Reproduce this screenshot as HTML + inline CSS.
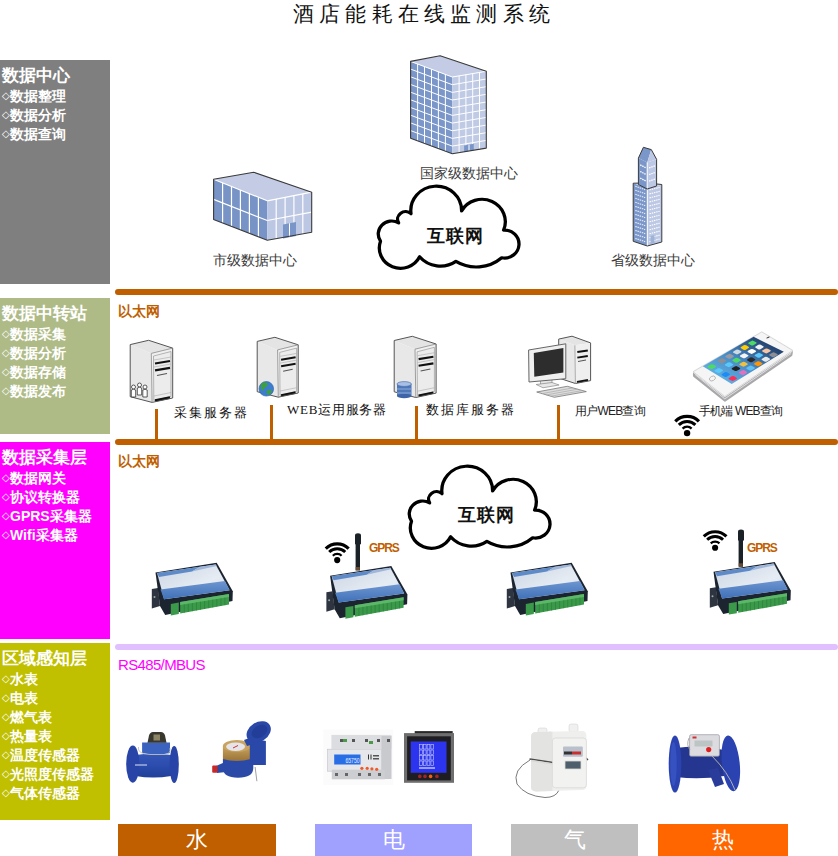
<!DOCTYPE html>
<html><head><meta charset="utf-8">
<style>
*{margin:0;padding:0;box-sizing:border-box}
html,body{width:838px;height:856px;overflow:hidden;background:#fff}
body{position:relative;font-family:"Liberation Sans",sans-serif}
.a{position:absolute;white-space:nowrap}
.side{position:absolute;left:0;width:110px;color:#fff;font-weight:bold}
.side .h{position:absolute;left:2px;top:2px;font-size:17px;line-height:20px}
.side .it{position:absolute;left:2px;font-size:14px;line-height:19px}
.side .it i{font-style:normal;font-weight:normal;font-size:10px;display:inline-block;width:8px;vertical-align:2px}
.hl{position:absolute;left:115px;width:723px;height:6px;border-radius:3px}
.vc{position:absolute;width:3px;background:#c05f00}
.btn{position:absolute;top:824px;height:32px;color:#fff;font-size:22px;line-height:32px;text-align:center}
.lbl{font-size:14px;color:#3a3a3a}
.g{position:absolute;left:0;top:0}
.srv{font-family:"Liberation Serif",serif;font-size:13px;color:#111;letter-spacing:2px}
</style></head><body>
<!-- title -->
<div class="a" style="left:293px;top:0px;font-family:'Liberation Serif',serif;font-size:21px;line-height:28px;letter-spacing:5.2px;color:#111">酒店能耗在线监测系统</div>

<!-- sidebar blocks -->
<div class="side" style="top:60px;height:224px;background:#7f7f7f">
  <div class="h" style="top:6px">数据中心</div>
  <div class="it" style="top:26px"><i>◇</i>数据整理</div>
  <div class="it" style="top:45px"><i>◇</i>数据分析</div>
  <div class="it" style="top:64px"><i>◇</i>数据查询</div>
</div>
<div class="side" style="top:298px;height:136px;background:#afbb87">
  <div class="h" style="top:6px">数据中转站</div>
  <div class="it" style="top:26px"><i>◇</i>数据采集</div>
  <div class="it" style="top:45px"><i>◇</i>数据分析</div>
  <div class="it" style="top:64px"><i>◇</i>数据存储</div>
  <div class="it" style="top:83px"><i>◇</i>数据发布</div>
</div>
<div class="side" style="top:442px;height:197px;background:#ff00ff">
  <div class="h" style="top:6px">数据采集层</div>
  <div class="it" style="top:26px"><i>◇</i>数据网关</div>
  <div class="it" style="top:45px"><i>◇</i>协议转换器</div>
  <div class="it" style="top:64px"><i>◇</i>GPRS采集器</div>
  <div class="it" style="top:83px"><i>◇</i>Wifi采集器</div>
</div>
<div class="side" style="top:643px;height:177px;background:#c0c000">
  <div class="h" style="top:6px">区域感知层</div>
  <div class="it" style="top:26px"><i>◇</i>水表</div>
  <div class="it" style="top:45px"><i>◇</i>电表</div>
  <div class="it" style="top:64px"><i>◇</i>燃气表</div>
  <div class="it" style="top:83px"><i>◇</i>热量表</div>
  <div class="it" style="top:102px"><i>◇</i>温度传感器</div>
  <div class="it" style="top:121px"><i>◇</i>光照度传感器</div>
  <div class="it" style="top:140px"><i>◇</i>气体传感器</div>
</div>

<!-- horizontal lines -->
<div class="hl" style="top:289px;background:#c05f00"></div>
<div class="hl" style="top:439px;background:#c05f00"></div>
<div class="hl" style="top:644px;background:#e0c0ff"></div>

<!-- vertical connectors -->
<div class="vc" style="left:155px;top:409px;height:32px"></div>
<div class="vc" style="left:270px;top:405px;height:36px"></div>
<div class="vc" style="left:415px;top:406px;height:35px"></div>
<div class="vc" style="left:557px;top:405px;height:36px"></div>

<!-- section labels -->
<div class="a" style="left:118px;top:301px;font-size:14px;line-height:20px;font-weight:bold;color:#c05f00">以太网</div>
<div class="a" style="left:118px;top:451px;font-size:14px;line-height:20px;font-weight:bold;color:#c05f00">以太网</div>
<div class="a" style="left:118px;top:655px;font-size:15px;line-height:20px;letter-spacing:-0.65px;color:#ff00ff">RS485/MBUS</div>

<svg class="g" width="838" height="856" viewBox="0 0 838 856"><polygon points="213.6,179.3 253.7,172.2 311.7,192.2 267.3,200.8" fill="#c3cce4" stroke="none" stroke-width="1" stroke-linejoin="round" />
<polygon points="213.6,179.3 267.3,200.8 267.3,240.2 213.6,219.4" fill="#7893c6" stroke="none" stroke-width="1" stroke-linejoin="round" />
<polygon points="267.3,200.8 311.7,192.2 311.7,232.3 267.3,240.2" fill="#bcc7e3" stroke="none" stroke-width="1" stroke-linejoin="round" />
<line x1="222.6" y1="182.9" x2="222.6" y2="222.9" stroke="#fff" stroke-width="1.2" />
<line x1="231.5" y1="186.5" x2="231.5" y2="226.3" stroke="#fff" stroke-width="1.2" />
<line x1="240.4" y1="190.1" x2="240.4" y2="229.8" stroke="#fff" stroke-width="1.2" />
<line x1="249.4" y1="193.6" x2="249.4" y2="233.3" stroke="#fff" stroke-width="1.2" />
<line x1="258.4" y1="197.2" x2="258.4" y2="236.7" stroke="#fff" stroke-width="1.2" />
<line x1="213.6" y1="199.4" x2="267.3" y2="220.5" stroke="#fff" stroke-width="1.2" />
<line x1="276.2" y1="199.1" x2="276.2" y2="238.6" stroke="#fff" stroke-width="1.2" />
<line x1="285.1" y1="197.4" x2="285.1" y2="237.0" stroke="#fff" stroke-width="1.2" />
<line x1="293.9" y1="195.6" x2="293.9" y2="235.5" stroke="#fff" stroke-width="1.2" />
<line x1="302.8" y1="193.9" x2="302.8" y2="233.9" stroke="#fff" stroke-width="1.2" />
<line x1="267.3" y1="220.5" x2="311.7" y2="212.2" stroke="#fff" stroke-width="1.2" />
<line x1="213.6" y1="179.3" x2="267.3" y2="200.8" stroke="#fff" stroke-width="1.2" />
<line x1="267.3" y1="200.8" x2="311.7" y2="192.2" stroke="#fff" stroke-width="1.2" />
<polygon points="283.0,224.5 296.0,222.0 296.0,236.0 283.0,238.5" fill="#7a96c9" stroke="none" stroke-width="1" stroke-linejoin="round" />
<line x1="289.5" y1="223.3" x2="289.5" y2="237.3" stroke="#fff" stroke-width="1" />
<polygon points="213.6,179.3 253.7,172.2 311.7,192.2 311.7,232.3 267.3,240.2 213.6,219.4" fill="none" stroke="#3a3a3a" stroke-width="1.1" stroke-linejoin="round" />
<polygon points="410.6,61.4 440.1,55.7 486.3,71.3 452.3,77.0" fill="#c3cce4" stroke="none" stroke-width="1" stroke-linejoin="round" />
<polygon points="410.6,61.4 452.3,77.0 452.3,153.8 410.6,138.3" fill="#7b97c9" stroke="none" stroke-width="1" stroke-linejoin="round" />
<polygon points="452.3,77.0 486.3,71.3 486.3,148.1 452.3,153.8" fill="#bfcae5" stroke="none" stroke-width="1" stroke-linejoin="round" />
<line x1="417.6" y1="64.0" x2="417.6" y2="140.9" stroke="#fff" stroke-width="1.0" />
<line x1="424.5" y1="66.6" x2="424.5" y2="143.5" stroke="#fff" stroke-width="1.0" />
<line x1="431.5" y1="69.2" x2="431.5" y2="146.1" stroke="#fff" stroke-width="1.0" />
<line x1="438.4" y1="71.8" x2="438.4" y2="148.6" stroke="#fff" stroke-width="1.0" />
<line x1="445.4" y1="74.4" x2="445.4" y2="151.2" stroke="#fff" stroke-width="1.0" />
<line x1="410.6" y1="69.1" x2="452.3" y2="84.7" stroke="#fff" stroke-width="1.0" />
<line x1="410.6" y1="76.8" x2="452.3" y2="92.4" stroke="#fff" stroke-width="1.0" />
<line x1="410.6" y1="84.5" x2="452.3" y2="100.0" stroke="#fff" stroke-width="1.0" />
<line x1="410.6" y1="92.2" x2="452.3" y2="107.7" stroke="#fff" stroke-width="1.0" />
<line x1="410.6" y1="99.8" x2="452.3" y2="115.4" stroke="#fff" stroke-width="1.0" />
<line x1="410.6" y1="107.5" x2="452.3" y2="123.1" stroke="#fff" stroke-width="1.0" />
<line x1="410.6" y1="115.2" x2="452.3" y2="130.8" stroke="#fff" stroke-width="1.0" />
<line x1="410.6" y1="122.9" x2="452.3" y2="138.4" stroke="#fff" stroke-width="1.0" />
<line x1="410.6" y1="130.6" x2="452.3" y2="146.1" stroke="#fff" stroke-width="1.0" />
<line x1="459.1" y1="75.9" x2="459.1" y2="152.7" stroke="#fff" stroke-width="1.0" />
<line x1="465.9" y1="74.7" x2="465.9" y2="151.5" stroke="#fff" stroke-width="1.0" />
<line x1="472.7" y1="73.6" x2="472.7" y2="150.4" stroke="#fff" stroke-width="1.0" />
<line x1="479.5" y1="72.4" x2="479.5" y2="149.2" stroke="#fff" stroke-width="1.0" />
<line x1="452.3" y1="84.7" x2="486.3" y2="79.0" stroke="#fff" stroke-width="1.0" />
<line x1="452.3" y1="92.4" x2="486.3" y2="86.7" stroke="#fff" stroke-width="1.0" />
<line x1="452.3" y1="100.0" x2="486.3" y2="94.3" stroke="#fff" stroke-width="1.0" />
<line x1="452.3" y1="107.7" x2="486.3" y2="102.0" stroke="#fff" stroke-width="1.0" />
<line x1="452.3" y1="115.4" x2="486.3" y2="109.7" stroke="#fff" stroke-width="1.0" />
<line x1="452.3" y1="123.1" x2="486.3" y2="117.4" stroke="#fff" stroke-width="1.0" />
<line x1="452.3" y1="130.8" x2="486.3" y2="125.1" stroke="#fff" stroke-width="1.0" />
<line x1="452.3" y1="138.4" x2="486.3" y2="132.7" stroke="#fff" stroke-width="1.0" />
<line x1="452.3" y1="146.1" x2="486.3" y2="140.4" stroke="#fff" stroke-width="1.0" />
<line x1="410.6" y1="61.4" x2="452.3" y2="77.0" stroke="#fff" stroke-width="1.0" />
<line x1="452.3" y1="77.0" x2="486.3" y2="71.3" stroke="#fff" stroke-width="1.0" />
<polygon points="464.1,145.5 473.8,143.8 473.8,150.2 464.1,151.9" fill="#7a96c9" stroke="none" stroke-width="1" stroke-linejoin="round" />
<line x1="469.0" y1="144.6" x2="469.0" y2="151.0" stroke="#fff" stroke-width="1" />
<polygon points="410.6,61.4 440.1,55.7 486.3,71.3 486.3,148.1 452.3,153.8 410.6,138.3" fill="none" stroke="#3a3a3a" stroke-width="1.1" stroke-linejoin="round" />
<polygon points="633.2,183.2 647.3,188.0 647.3,246.0 633.2,241.3" fill="#7b97c9" stroke="none" stroke-width="1" stroke-linejoin="round" />
<polygon points="647.3,188.0 661.8,184.5 661.8,242.0 647.3,246.0" fill="#bdc8e4" stroke="none" stroke-width="1" stroke-linejoin="round" />
<line x1="635.3" y1="186.3" x2="645.2" y2="189.7" stroke="#e8eef8" stroke-width="1.1" stroke-dasharray="1.5 0.8"/>
<line x1="649.5" y1="189.9" x2="659.6" y2="187.4" stroke="#ffffff" stroke-width="1.1" stroke-dasharray="1.5 0.8"/>
<line x1="635.3" y1="190.3" x2="645.2" y2="193.7" stroke="#e8eef8" stroke-width="1.1" stroke-dasharray="1.5 0.8"/>
<line x1="649.5" y1="193.9" x2="659.6" y2="191.4" stroke="#ffffff" stroke-width="1.1" stroke-dasharray="1.5 0.8"/>
<line x1="635.3" y1="194.3" x2="645.2" y2="197.7" stroke="#e8eef8" stroke-width="1.1" stroke-dasharray="1.5 0.8"/>
<line x1="649.5" y1="197.9" x2="659.6" y2="195.3" stroke="#ffffff" stroke-width="1.1" stroke-dasharray="1.5 0.8"/>
<line x1="635.3" y1="198.3" x2="645.2" y2="201.7" stroke="#e8eef8" stroke-width="1.1" stroke-dasharray="1.5 0.8"/>
<line x1="649.5" y1="201.9" x2="659.6" y2="199.3" stroke="#ffffff" stroke-width="1.1" stroke-dasharray="1.5 0.8"/>
<line x1="635.3" y1="202.3" x2="645.2" y2="205.7" stroke="#e8eef8" stroke-width="1.1" stroke-dasharray="1.5 0.8"/>
<line x1="649.5" y1="205.9" x2="659.6" y2="203.3" stroke="#ffffff" stroke-width="1.1" stroke-dasharray="1.5 0.8"/>
<line x1="635.3" y1="206.4" x2="645.2" y2="209.7" stroke="#e8eef8" stroke-width="1.1" stroke-dasharray="1.5 0.8"/>
<line x1="649.5" y1="209.8" x2="659.6" y2="207.3" stroke="#ffffff" stroke-width="1.1" stroke-dasharray="1.5 0.8"/>
<line x1="635.3" y1="210.4" x2="645.2" y2="213.7" stroke="#e8eef8" stroke-width="1.1" stroke-dasharray="1.5 0.8"/>
<line x1="649.5" y1="213.8" x2="659.6" y2="211.2" stroke="#ffffff" stroke-width="1.1" stroke-dasharray="1.5 0.8"/>
<line x1="635.3" y1="214.4" x2="645.2" y2="217.7" stroke="#e8eef8" stroke-width="1.1" stroke-dasharray="1.5 0.8"/>
<line x1="649.5" y1="217.8" x2="659.6" y2="215.2" stroke="#ffffff" stroke-width="1.1" stroke-dasharray="1.5 0.8"/>
<line x1="635.3" y1="218.4" x2="645.2" y2="221.7" stroke="#e8eef8" stroke-width="1.1" stroke-dasharray="1.5 0.8"/>
<line x1="649.5" y1="221.8" x2="659.6" y2="219.2" stroke="#ffffff" stroke-width="1.1" stroke-dasharray="1.5 0.8"/>
<line x1="635.3" y1="222.4" x2="645.2" y2="225.7" stroke="#e8eef8" stroke-width="1.1" stroke-dasharray="1.5 0.8"/>
<line x1="649.5" y1="225.8" x2="659.6" y2="223.1" stroke="#ffffff" stroke-width="1.1" stroke-dasharray="1.5 0.8"/>
<line x1="635.3" y1="226.4" x2="645.2" y2="229.7" stroke="#e8eef8" stroke-width="1.1" stroke-dasharray="1.5 0.8"/>
<line x1="649.5" y1="229.8" x2="659.6" y2="227.1" stroke="#ffffff" stroke-width="1.1" stroke-dasharray="1.5 0.8"/>
<line x1="635.3" y1="230.4" x2="645.2" y2="233.7" stroke="#e8eef8" stroke-width="1.1" stroke-dasharray="1.5 0.8"/>
<line x1="649.5" y1="233.8" x2="659.6" y2="231.1" stroke="#ffffff" stroke-width="1.1" stroke-dasharray="1.5 0.8"/>
<line x1="635.3" y1="234.4" x2="645.2" y2="237.7" stroke="#e8eef8" stroke-width="1.1" stroke-dasharray="1.5 0.8"/>
<line x1="649.5" y1="237.8" x2="659.6" y2="235.1" stroke="#ffffff" stroke-width="1.1" stroke-dasharray="1.5 0.8"/>
<line x1="635.3" y1="238.4" x2="645.2" y2="241.7" stroke="#e8eef8" stroke-width="1.1" stroke-dasharray="1.5 0.8"/>
<line x1="649.5" y1="241.8" x2="659.6" y2="239.0" stroke="#ffffff" stroke-width="1.1" stroke-dasharray="1.5 0.8"/>
<line x1="647.3" y1="188.0" x2="647.3" y2="246.0" stroke="#fff" stroke-width="1" />
<polygon points="633.2,183.2 647.3,183.0 661.8,184.5 647.3,188.0" fill="#c3cce4" stroke="none" stroke-width="1" stroke-linejoin="round" />
<polygon points="633.2,183.2 647.3,183.0 661.8,184.5 661.8,242.0 647.3,246.0 633.2,241.3" fill="none" stroke="#3a3a3a" stroke-width="1" stroke-linejoin="round" />
<polygon points="638.4,158.1 647.2,162.5 647.2,189.0 638.4,184.5" fill="#7b97c9" stroke="none" stroke-width="1" stroke-linejoin="round" />
<polygon points="647.2,162.5 656.6,159.3 656.6,186.0 647.2,189.0" fill="#bdc8e4" stroke="none" stroke-width="1" stroke-linejoin="round" />
<line x1="640.2" y1="164.9" x2="645.9" y2="167.8" stroke="#fff" stroke-width="1.3" stroke-dasharray="1.5 0.8"/>
<line x1="649.1" y1="167.8" x2="655.2" y2="165.8" stroke="#fff" stroke-width="1.3" stroke-dasharray="1.5 0.8"/>
<line x1="640.2" y1="171.5" x2="645.9" y2="174.4" stroke="#fff" stroke-width="1.3" stroke-dasharray="1.5 0.8"/>
<line x1="649.1" y1="174.5" x2="655.2" y2="172.4" stroke="#fff" stroke-width="1.3" stroke-dasharray="1.5 0.8"/>
<line x1="640.2" y1="178.1" x2="645.9" y2="181.0" stroke="#fff" stroke-width="1.3" stroke-dasharray="1.5 0.8"/>
<line x1="649.1" y1="181.1" x2="655.2" y2="179.1" stroke="#fff" stroke-width="1.3" stroke-dasharray="1.5 0.8"/>
<polygon points="643.4,147.3 651.3,149.6 647.2,162.5 638.4,158.1" fill="#7b97c9" stroke="none" stroke-width="1" stroke-linejoin="round" />
<polygon points="651.3,149.6 656.6,159.3 647.2,162.5" fill="#bdc8e4" stroke="none" stroke-width="1" stroke-linejoin="round" />
<line x1="647.2" y1="162.5" x2="647.2" y2="189.0" stroke="#fff" stroke-width="1" />
<polygon points="643.4,147.3 651.3,149.6 656.6,159.3 656.6,186.0 647.2,189.0 638.4,184.5 638.4,158.1" fill="none" stroke="#3a3a3a" stroke-width="1" stroke-linejoin="round" />
<polygon points="650.5,236.0 654.5,235.0 654.5,243.0 650.5,244.0" fill="#9fb3d9" stroke="none" stroke-width="1" stroke-linejoin="round" />
<path transform="translate(370,180.6) scale(1,0.962)" d="M10.5,63.0 A13.5,13.5 0 0 1 28.6,43.9 A7.9,7.9 0 0 1 41.0,34.4 A25.4,25.4 0 1 1 91.6,31.5 A23.3,23.3 0 0 1 133.6,51.5 A14.5,14.5 0 1 1 131.7,80.2 A38.6,38.6 0 0 1 85.9,84.0 A27.1,27.1 0 0 1 49.6,79.2 A21.2,21.2 0 0 1 10.5,63.0Z" fill="#fff" stroke="#000" stroke-width="3.3" stroke-linejoin="round"/>
<path transform="translate(401,460.6) scale(1,0.962)" d="M10.5,63.0 A13.5,13.5 0 0 1 28.6,43.9 A7.9,7.9 0 0 1 41.0,34.4 A25.4,25.4 0 1 1 91.6,31.5 A23.3,23.3 0 0 1 133.6,51.5 A14.5,14.5 0 1 1 131.7,80.2 A38.6,38.6 0 0 1 85.9,84.0 A27.1,27.1 0 0 1 49.6,79.2 A21.2,21.2 0 0 1 10.5,63.0Z" fill="#fff" stroke="#000" stroke-width="3.3" stroke-linejoin="round"/>
<polygon points="130.2,344.6 148.6,340.3 172.7,348.1 151.3,353.4" fill="#e4e4e4" stroke="none" stroke-width="1" stroke-linejoin="round" />
<polygon points="130.2,344.6 151.3,353.4 152.1,402.4 130.2,396.7" fill="#e8e8e8" stroke="none" stroke-width="1" stroke-linejoin="round" />
<polygon points="151.3,353.4 172.7,348.1 172.7,398.0 152.1,402.4" fill="#f0f0f0" stroke="none" stroke-width="1" stroke-linejoin="round" />
<polygon points="153.5,356.0 171.0,351.5 171.0,396.5 153.8,400.5" fill="#ececec" stroke="#9a9a9a" stroke-width="0.7" stroke-linejoin="round" />
<line x1="155.0" y1="363.5" x2="170.0" y2="361.0" stroke="#111" stroke-width="2.2" />
<line x1="155.0" y1="370.3" x2="170.0" y2="367.8" stroke="#111" stroke-width="2.2" />
<line x1="157.0" y1="375.5" x2="167.0" y2="373.5" stroke="#555" stroke-width="1.2" />
<line x1="154.0" y1="360.0" x2="171.0" y2="357.0" stroke="#aaa" stroke-width="0.6" />
<line x1="154.0" y1="367.0" x2="171.0" y2="364.0" stroke="#aaa" stroke-width="0.6" />
<line x1="154.0" y1="396.0" x2="171.0" y2="392.5" stroke="#aaa" stroke-width="0.6" />
<line x1="155.0" y1="400.5" x2="170.0" y2="397.5" stroke="#111" stroke-width="2.4" />
<polygon points="130.2,344.6 148.6,340.3 172.7,348.1 172.7,398.0 152.1,402.4 130.2,396.7" fill="none" stroke="#555" stroke-width="1" stroke-linejoin="round" />
<line x1="151.3" y1="353.4" x2="152.1" y2="402.4" stroke="#888" stroke-width="0.8" />
<line x1="151.3" y1="353.4" x2="172.7" y2="348.1" stroke="#888" stroke-width="0.8" />
<circle cx="133.5" cy="387" r="2" fill="#fff" stroke="#333" stroke-width="0.8"/>
<path d="M131.3,397 L131.3,390 Q133.5,388.5 135.7,390 L135.7,397 Z" fill="#fff" stroke="#333" stroke-width="0.8"/>
<circle cx="139.5" cy="385" r="2" fill="#fff" stroke="#333" stroke-width="0.8"/>
<path d="M137.3,395 L137.3,388 Q139.5,386.5 141.7,388 L141.7,395 Z" fill="#fff" stroke="#333" stroke-width="0.8"/>
<circle cx="145" cy="387" r="2" fill="#fff" stroke="#333" stroke-width="0.8"/>
<path d="M142.8,397 L142.8,390 Q145,388.5 147.2,390 L147.2,397 Z" fill="#fff" stroke="#333" stroke-width="0.8"/>
<polygon points="257.2,341.4 274.9,337.3 298.2,344.8 277.6,349.9" fill="#e4e4e4" stroke="none" stroke-width="1" stroke-linejoin="round" />
<polygon points="257.2,341.4 277.6,349.9 278.3,397.2 257.2,391.7" fill="#e8e8e8" stroke="none" stroke-width="1" stroke-linejoin="round" />
<polygon points="277.6,349.9 298.2,344.8 298.2,393.0 278.3,397.2" fill="#f0f0f0" stroke="none" stroke-width="1" stroke-linejoin="round" />
<polygon points="279.7,352.4 296.6,348.1 296.6,391.5 280.0,395.4" fill="#ececec" stroke="#9a9a9a" stroke-width="0.7" stroke-linejoin="round" />
<line x1="281.1" y1="359.7" x2="295.6" y2="357.3" stroke="#111" stroke-width="2.123" />
<line x1="281.1" y1="366.2" x2="295.6" y2="363.8" stroke="#111" stroke-width="2.123" />
<line x1="283.1" y1="371.3" x2="292.7" y2="369.3" stroke="#555" stroke-width="1.158" />
<line x1="280.2" y1="356.3" x2="296.6" y2="353.4" stroke="#aaa" stroke-width="0.6" />
<line x1="280.2" y1="363.1" x2="296.6" y2="360.2" stroke="#aaa" stroke-width="0.6" />
<line x1="280.2" y1="391.0" x2="296.6" y2="387.7" stroke="#aaa" stroke-width="0.6" />
<line x1="281.1" y1="395.4" x2="295.6" y2="392.5" stroke="#111" stroke-width="2.316" />
<polygon points="257.2,341.4 274.9,337.3 298.2,344.8 298.2,393.0 278.3,397.2 257.2,391.7" fill="none" stroke="#555" stroke-width="1" stroke-linejoin="round" />
<line x1="277.6" y1="349.9" x2="278.3" y2="397.2" stroke="#888" stroke-width="0.8" />
<line x1="277.6" y1="349.9" x2="298.2" y2="344.8" stroke="#888" stroke-width="0.8" />
<circle cx="266.3" cy="388.8" r="7.3" fill="#3d7dd0" stroke="#2a5aa0" stroke-width="0.6"/>
<path d="M261,384 q3,-3 6,-1 q2,2 -1,4 q-3,1 -2,4 q-3,-1 -3,-3 Z M267,390 q3,-1 5,1 q-1,3 -4,4 q-2,-2 -1,-5 Z" fill="#3ca040"/>
<polygon points="394.2,340.5 412.3,336.3 436.1,344.0 415.0,349.2" fill="#e4e4e4" stroke="none" stroke-width="1" stroke-linejoin="round" />
<polygon points="394.2,340.5 415.0,349.2 415.8,397.5 394.2,391.8" fill="#e8e8e8" stroke="none" stroke-width="1" stroke-linejoin="round" />
<polygon points="415.0,349.2 436.1,344.0 436.1,393.1 415.8,397.5" fill="#f0f0f0" stroke="none" stroke-width="1" stroke-linejoin="round" />
<polygon points="417.1,351.8 434.4,347.3 434.4,391.7 417.4,395.6" fill="#ececec" stroke="#9a9a9a" stroke-width="0.7" stroke-linejoin="round" />
<line x1="418.6" y1="359.1" x2="433.4" y2="356.7" stroke="#111" stroke-width="2.1670000000000003" />
<line x1="418.6" y1="365.8" x2="433.4" y2="363.4" stroke="#111" stroke-width="2.1670000000000003" />
<line x1="420.6" y1="371.0" x2="430.4" y2="369.0" stroke="#555" stroke-width="1.182" />
<line x1="417.6" y1="355.7" x2="434.4" y2="352.7" stroke="#aaa" stroke-width="0.6" />
<line x1="417.6" y1="362.6" x2="434.4" y2="359.6" stroke="#aaa" stroke-width="0.6" />
<line x1="417.6" y1="391.2" x2="434.4" y2="387.7" stroke="#aaa" stroke-width="0.6" />
<line x1="418.6" y1="395.6" x2="433.4" y2="392.6" stroke="#111" stroke-width="2.364" />
<polygon points="394.2,340.5 412.3,336.3 436.1,344.0 436.1,393.1 415.8,397.5 394.2,391.8" fill="none" stroke="#555" stroke-width="1" stroke-linejoin="round" />
<line x1="415.0" y1="349.2" x2="415.8" y2="397.5" stroke="#888" stroke-width="0.8" />
<line x1="415.0" y1="349.2" x2="436.1" y2="344.0" stroke="#888" stroke-width="0.8" />
<g><rect x="397" y="384" width="14.5" height="12" fill="#4e78b8"/><ellipse cx="404.2" cy="396" rx="7.25" ry="2.2" fill="#3d64a6"/><ellipse cx="404.2" cy="384" rx="7.25" ry="2.4" fill="#a9c0e6" stroke="#3d64a6" stroke-width="0.6"/><line x1="397" y1="389" x2="411.5" y2="389" stroke="#8eaadc" stroke-width="1"/><line x1="397" y1="393" x2="411.5" y2="393" stroke="#8eaadc" stroke-width="1"/></g>
<polygon points="558.7,339.1 572.0,336.2 590.6,342.9 574.9,345.3" fill="#e4e4e4" stroke="none" stroke-width="1" stroke-linejoin="round" />
<polygon points="558.7,339.1 574.9,345.3 575.4,383.5 558.7,378.0" fill="#e8e8e8" stroke="none" stroke-width="1" stroke-linejoin="round" />
<polygon points="574.9,345.3 590.6,342.9 590.6,380.6 575.4,383.5" fill="#efefef" stroke="none" stroke-width="1" stroke-linejoin="round" />
<line x1="577.3" y1="352.0" x2="587.8" y2="350.5" stroke="#111" stroke-width="1.8" />
<line x1="577.3" y1="357.7" x2="587.8" y2="356.0" stroke="#111" stroke-width="1.8" />
<line x1="578.0" y1="361.5" x2="586.0" y2="360.0" stroke="#555" stroke-width="1" />
<line x1="577.0" y1="382.0" x2="588.0" y2="380.0" stroke="#111" stroke-width="1.8" />
<polygon points="558.7,339.1 572.0,336.2 590.6,342.9 590.6,380.6 575.4,383.5 558.7,378.0" fill="none" stroke="#555" stroke-width="1" stroke-linejoin="round" />
<line x1="574.9" y1="345.3" x2="575.4" y2="383.5" stroke="#999" stroke-width="0.8" />
<polygon points="540.5,379.0 552.0,378.0 552.0,384.0 540.5,385.0" fill="#e6e6e6" stroke="#777" stroke-width="0.6" stroke-linejoin="round" />
<polygon points="536.2,384.5 552.0,382.5 559.1,385.0 543.0,387.8" fill="#e8e8e8" stroke="#777" stroke-width="0.6" stroke-linejoin="round" />
<polygon points="528.6,350.0 565.8,343.8 565.8,378.7 529.0,382.0" fill="#efefef" stroke="#666" stroke-width="1" stroke-linejoin="round" />
<polygon points="533.8,352.9 563.4,348.1 563.4,372.5 534.3,376.8" fill="#2d2d2d" stroke="none" stroke-width="1" stroke-linejoin="round" />
<polygon points="536.7,392.0 567.3,386.3 586.3,391.6 554.4,397.3" fill="#dcdcdc" stroke="#777" stroke-width="0.8" stroke-linejoin="round" />
<line x1="542.0" y1="393.6" x2="573.0" y2="387.9" stroke="#aaa" stroke-width="0.7" />
<line x1="546.4" y1="394.9" x2="577.8" y2="389.2" stroke="#aaa" stroke-width="0.7" />
<line x1="550.9" y1="396.2" x2="582.5" y2="390.5" stroke="#aaa" stroke-width="0.7" />
<polygon points="694.2,372.7 724.8,396.4 791.7,351.4 791.2,354.9 724.8,400.4 694.2,375.7" fill="#b9b9bb" stroke="#a8a8aa" stroke-width="2.5" stroke-linejoin="round"/>
<polyline points="695.2,374.7 724.8,398.9 791.2,353.4" fill="none" stroke="#e2e2e4" stroke-width="0.9"/>
<polygon points="695.2,371.7 761.8,333.4 790.7,350.4 724.8,394.9" fill="#f5f5f5" stroke="#f5f5f5" stroke-width="4" stroke-linejoin="round"/>
<polygon points="693.2,371.7 761.8,331.9 792.7,350.4 724.8,396.4" fill="none" stroke="#cfcfd1" stroke-width="0.8" stroke-linejoin="round"/>
<defs><linearGradient id="scr" x1="0" y1="1" x2="1" y2="0"><stop offset="0" stop-color="#6cc0ec"/><stop offset="0.45" stop-color="#4a8ec8"/><stop offset="1" stop-color="#14224a"/></linearGradient></defs>
<polygon points="702.8,366.2 753.6,336.7 783.8,351.8 731.7,384.0" fill="url(#scr)" stroke="none" stroke-width="1" stroke-linejoin="round" />
<g transform="matrix(0.7375 0.4125 -0.7257 0.4214 753.6 336.7)"><rect x="3.5" y="5.0" width="6.5" height="7" rx="1.6" fill="#4cd964"/><rect x="13.0" y="5.0" width="6.5" height="7" rx="1.6" fill="#f2f2f2"/><rect x="22.5" y="5.0" width="6.5" height="7" rx="1.6" fill="#f7c3a0"/><rect x="32.0" y="5.0" width="6.5" height="7" rx="1.6" fill="#8e8e93"/><rect x="3.5" y="15.5" width="6.5" height="7" rx="1.6" fill="#ffcc00"/><rect x="13.0" y="15.5" width="6.5" height="7" rx="1.6" fill="#ffffff"/><rect x="22.5" y="15.5" width="6.5" height="7" rx="1.6" fill="#5ac8fa"/><rect x="32.0" y="15.5" width="6.5" height="7" rx="1.6" fill="#e8e8e8"/><rect x="3.5" y="26.0" width="6.5" height="7" rx="1.6" fill="#d0d8e0"/><rect x="13.0" y="26.0" width="6.5" height="7" rx="1.6" fill="#f5f5f5"/><rect x="22.5" y="26.0" width="6.5" height="7" rx="1.6" fill="#2a2a2a"/><rect x="32.0" y="26.0" width="6.5" height="7" rx="1.6" fill="#ff9500"/><rect x="3.5" y="36.5" width="6.5" height="7" rx="1.6" fill="#9a9aa0"/><rect x="13.0" y="36.5" width="6.5" height="7" rx="1.6" fill="#4cd964"/><rect x="22.5" y="36.5" width="6.5" height="7" rx="1.6" fill="#f0c040"/><rect x="32.0" y="36.5" width="6.5" height="7" rx="1.6" fill="#60c0f0"/><rect x="3.5" y="47.0" width="6.5" height="7" rx="1.6" fill="#8e8e93"/><rect x="13.0" y="47.0" width="6.5" height="7" rx="1.6" fill="#5ac8fa"/><rect x="22.5" y="47.0" width="6.5" height="7" rx="1.6" fill="#222"/><rect x="32.0" y="47.0" width="6.5" height="7" rx="1.6" fill="#e070c0"/><rect x="3.5" y="61" width="6.5" height="7" rx="1.6" fill="#4cd964"/><rect x="13.0" y="61" width="6.5" height="7" rx="1.6" fill="#5ac8fa"/><rect x="22.5" y="61" width="6.5" height="7" rx="1.6" fill="#1d8cf8"/><rect x="32.0" y="61" width="6.5" height="7" rx="1.6" fill="#ff2d55"/></g>
<ellipse cx="712.4" cy="378.5" rx="3.2" ry="2.2" transform="rotate(-28 712.4 378.5)" fill="none" stroke="#b0b0b0" stroke-width="0.8"/>
<ellipse cx="768" cy="337.5" rx="1.8" ry="0.7" transform="rotate(-28 768 337.5)" fill="#444"/>
<g transform="translate(687.1,433.1) scale(1.0)"><path d="M-4.53,-4.53 A6.4,6.4 0 0 1 4.53,-4.53" fill="none" stroke="#000" stroke-width="2.3"/><path d="M-8.27,-8.27 A11.7,11.7 0 0 1 8.27,-8.27" fill="none" stroke="#000" stroke-width="3.0"/><path d="M-11.81,-11.81 A16.7,16.7 0 0 1 11.81,-11.81" fill="none" stroke="#000" stroke-width="3.2"/><circle cx="0" cy="0" r="3.2" fill="#000"/></g>
<g transform="translate(337.2,560.1) scale(0.97)"><path d="M-4.53,-4.53 A6.4,6.4 0 0 1 4.53,-4.53" fill="none" stroke="#000" stroke-width="2.3"/><path d="M-8.27,-8.27 A11.7,11.7 0 0 1 8.27,-8.27" fill="none" stroke="#000" stroke-width="3.0"/><path d="M-11.81,-11.81 A16.7,16.7 0 0 1 11.81,-11.81" fill="none" stroke="#000" stroke-width="3.2"/><circle cx="0" cy="0" r="3.2" fill="#000"/></g>
<g transform="translate(715.1,547.7) scale(0.96)"><path d="M-4.53,-4.53 A6.4,6.4 0 0 1 4.53,-4.53" fill="none" stroke="#000" stroke-width="2.3"/><path d="M-8.27,-8.27 A11.7,11.7 0 0 1 8.27,-8.27" fill="none" stroke="#000" stroke-width="3.0"/><path d="M-11.81,-11.81 A16.7,16.7 0 0 1 11.81,-11.81" fill="none" stroke="#000" stroke-width="3.2"/><circle cx="0" cy="0" r="3.2" fill="#000"/></g>
<defs><linearGradient id="gwb" x1="0" y1="0" x2="0" y2="1"><stop offset="0" stop-color="#6e96d0"/><stop offset="1" stop-color="#3f70b8"/></linearGradient><linearGradient id="gwp" x1="0" y1="0" x2="1" y2="1"><stop offset="0" stop-color="#c9d4e4"/><stop offset="0.6" stop-color="#e6ecf3"/><stop offset="1" stop-color="#d2dbe8"/></linearGradient></defs>
<polygon points="151.8,589.0 158.0,588.0 160.0,606.0 151.8,608.5" fill="#2e3440" stroke="none" stroke-width="1" stroke-linejoin="round" />
<circle cx="154.5" cy="597.0" r="1" fill="#9aa"/>
<polygon points="155.5,572.5 216.7,562.8 232.8,591.3 232.5,601.0 165.2,614.9 160.0,606.0" fill="#1c2430" stroke="none" stroke-width="1" stroke-linejoin="round" />
<polygon points="157.1,573.0 215.7,564.4 229.6,590.2 164.1,599.3" fill="url(#gwp)" stroke="none" stroke-width="1" stroke-linejoin="round" />
<polygon points="157.1,573.0 200.0,566.8 192.0,571.5 159.0,577.0" fill="#5f8ac8" stroke="none" stroke-width="1" stroke-linejoin="round" />
<polygon points="200.0,566.8 215.7,564.4 216.5,566.0 192.0,571.5" fill="#9fb6da" stroke="none" stroke-width="1" stroke-linejoin="round" />
<polygon points="160.5,589.5 225.0,581.0 229.6,590.2 164.1,599.3" fill="url(#gwb)" stroke="none" stroke-width="1" stroke-linejoin="round" />
<polygon points="170.8,604.0 178.8,602.6 178.8,614.0 170.8,615.4" fill="#3a9a4a" stroke="none" stroke-width="1" stroke-linejoin="round" />
<polygon points="180.2,602.0 229.0,594.0 229.0,604.5 180.2,613.5" fill="#3a9a4a" stroke="none" stroke-width="1" stroke-linejoin="round" />
<polygon points="180.2,602.0 229.0,594.0 229.0,597.0 180.2,605.0" fill="#5cb868" stroke="none" stroke-width="1" stroke-linejoin="round" />
<line x1="184.3" y1="604.3" x2="184.3" y2="612.8" stroke="#2a7a38" stroke-width="0.6" />
<line x1="188.3" y1="603.7" x2="188.3" y2="612.0" stroke="#2a7a38" stroke-width="0.6" />
<line x1="192.4" y1="603.0" x2="192.4" y2="611.2" stroke="#2a7a38" stroke-width="0.6" />
<line x1="196.5" y1="602.3" x2="196.5" y2="610.5" stroke="#2a7a38" stroke-width="0.6" />
<line x1="200.5" y1="601.7" x2="200.5" y2="609.8" stroke="#2a7a38" stroke-width="0.6" />
<line x1="204.6" y1="601.0" x2="204.6" y2="609.0" stroke="#2a7a38" stroke-width="0.6" />
<line x1="208.7" y1="600.3" x2="208.7" y2="608.2" stroke="#2a7a38" stroke-width="0.6" />
<line x1="212.7" y1="599.7" x2="212.7" y2="607.5" stroke="#2a7a38" stroke-width="0.6" />
<line x1="216.8" y1="599.0" x2="216.8" y2="606.8" stroke="#2a7a38" stroke-width="0.6" />
<line x1="220.9" y1="598.3" x2="220.9" y2="606.0" stroke="#2a7a38" stroke-width="0.6" />
<line x1="224.9" y1="597.7" x2="224.9" y2="605.2" stroke="#2a7a38" stroke-width="0.6" />
<polygon points="326.4,592.3 332.6,591.3 334.6,609.3 326.4,611.8" fill="#2e3440" stroke="none" stroke-width="1" stroke-linejoin="round" />
<circle cx="329.1" cy="600.3" r="1" fill="#9aa"/>
<polygon points="330.1,575.8 391.3,566.1 407.4,594.6 407.1,604.3 339.8,618.2 334.6,609.3" fill="#1c2430" stroke="none" stroke-width="1" stroke-linejoin="round" />
<polygon points="331.7,576.3 390.3,567.7 404.2,593.5 338.7,602.6" fill="url(#gwp)" stroke="none" stroke-width="1" stroke-linejoin="round" />
<polygon points="331.7,576.3 374.6,570.1 366.6,574.8 333.6,580.3" fill="#5f8ac8" stroke="none" stroke-width="1" stroke-linejoin="round" />
<polygon points="374.6,570.1 390.3,567.7 391.1,569.3 366.6,574.8" fill="#9fb6da" stroke="none" stroke-width="1" stroke-linejoin="round" />
<polygon points="335.1,592.8 399.6,584.3 404.2,593.5 338.7,602.6" fill="url(#gwb)" stroke="none" stroke-width="1" stroke-linejoin="round" />
<polygon points="345.4,607.3 353.4,605.9 353.4,617.3 345.4,618.7" fill="#3a9a4a" stroke="none" stroke-width="1" stroke-linejoin="round" />
<polygon points="354.8,605.3 403.6,597.3 403.6,607.8 354.8,616.8" fill="#3a9a4a" stroke="none" stroke-width="1" stroke-linejoin="round" />
<polygon points="354.8,605.3 403.6,597.3 403.6,600.3 354.8,608.3" fill="#5cb868" stroke="none" stroke-width="1" stroke-linejoin="round" />
<line x1="358.9" y1="607.6" x2="358.9" y2="616.0" stroke="#2a7a38" stroke-width="0.6" />
<line x1="362.9" y1="607.0" x2="362.9" y2="615.3" stroke="#2a7a38" stroke-width="0.6" />
<line x1="367.0" y1="606.3" x2="367.0" y2="614.5" stroke="#2a7a38" stroke-width="0.6" />
<line x1="371.1" y1="605.6" x2="371.1" y2="613.8" stroke="#2a7a38" stroke-width="0.6" />
<line x1="375.1" y1="605.0" x2="375.1" y2="613.0" stroke="#2a7a38" stroke-width="0.6" />
<line x1="379.2" y1="604.3" x2="379.2" y2="612.3" stroke="#2a7a38" stroke-width="0.6" />
<line x1="383.3" y1="603.6" x2="383.3" y2="611.5" stroke="#2a7a38" stroke-width="0.6" />
<line x1="387.3" y1="603.0" x2="387.3" y2="610.8" stroke="#2a7a38" stroke-width="0.6" />
<line x1="391.4" y1="602.3" x2="391.4" y2="610.0" stroke="#2a7a38" stroke-width="0.6" />
<line x1="395.5" y1="601.6" x2="395.5" y2="609.3" stroke="#2a7a38" stroke-width="0.6" />
<line x1="399.5" y1="601.0" x2="399.5" y2="608.5" stroke="#2a7a38" stroke-width="0.6" />
<polygon points="506.8,589.0 513.0,588.0 515.0,606.0 506.8,608.5" fill="#2e3440" stroke="none" stroke-width="1" stroke-linejoin="round" />
<circle cx="509.5" cy="597.0" r="1" fill="#9aa"/>
<polygon points="510.5,572.5 571.7,562.8 587.8,591.3 587.5,601.0 520.2,614.9 515.0,606.0" fill="#1c2430" stroke="none" stroke-width="1" stroke-linejoin="round" />
<polygon points="512.1,573.0 570.7,564.4 584.6,590.2 519.1,599.3" fill="url(#gwp)" stroke="none" stroke-width="1" stroke-linejoin="round" />
<polygon points="512.1,573.0 555.0,566.8 547.0,571.5 514.0,577.0" fill="#5f8ac8" stroke="none" stroke-width="1" stroke-linejoin="round" />
<polygon points="555.0,566.8 570.7,564.4 571.5,566.0 547.0,571.5" fill="#9fb6da" stroke="none" stroke-width="1" stroke-linejoin="round" />
<polygon points="515.5,589.5 580.0,581.0 584.6,590.2 519.1,599.3" fill="url(#gwb)" stroke="none" stroke-width="1" stroke-linejoin="round" />
<polygon points="525.8,604.0 533.8,602.6 533.8,614.0 525.8,615.4" fill="#3a9a4a" stroke="none" stroke-width="1" stroke-linejoin="round" />
<polygon points="535.2,602.0 584.0,594.0 584.0,604.5 535.2,613.5" fill="#3a9a4a" stroke="none" stroke-width="1" stroke-linejoin="round" />
<polygon points="535.2,602.0 584.0,594.0 584.0,597.0 535.2,605.0" fill="#5cb868" stroke="none" stroke-width="1" stroke-linejoin="round" />
<line x1="539.3" y1="604.3" x2="539.3" y2="612.8" stroke="#2a7a38" stroke-width="0.6" />
<line x1="543.3" y1="603.7" x2="543.3" y2="612.0" stroke="#2a7a38" stroke-width="0.6" />
<line x1="547.4" y1="603.0" x2="547.4" y2="611.2" stroke="#2a7a38" stroke-width="0.6" />
<line x1="551.5" y1="602.3" x2="551.5" y2="610.5" stroke="#2a7a38" stroke-width="0.6" />
<line x1="555.5" y1="601.7" x2="555.5" y2="609.8" stroke="#2a7a38" stroke-width="0.6" />
<line x1="559.6" y1="601.0" x2="559.6" y2="609.0" stroke="#2a7a38" stroke-width="0.6" />
<line x1="563.7" y1="600.3" x2="563.7" y2="608.2" stroke="#2a7a38" stroke-width="0.6" />
<line x1="567.7" y1="599.7" x2="567.7" y2="607.5" stroke="#2a7a38" stroke-width="0.6" />
<line x1="571.8" y1="599.0" x2="571.8" y2="606.8" stroke="#2a7a38" stroke-width="0.6" />
<line x1="575.9" y1="598.3" x2="575.9" y2="606.0" stroke="#2a7a38" stroke-width="0.6" />
<line x1="579.9" y1="597.7" x2="579.9" y2="605.2" stroke="#2a7a38" stroke-width="0.6" />
<polygon points="709.8,588.2 716.0,587.2 718.0,605.2 709.8,607.8" fill="#2e3440" stroke="none" stroke-width="1" stroke-linejoin="round" />
<circle cx="712.5" cy="596.2" r="1" fill="#9aa"/>
<polygon points="713.5,571.8 774.7,562.0 790.8,590.5 790.5,600.2 723.2,614.1 718.0,605.2" fill="#1c2430" stroke="none" stroke-width="1" stroke-linejoin="round" />
<polygon points="715.1,572.2 773.7,563.6 787.6,589.5 722.1,598.5" fill="url(#gwp)" stroke="none" stroke-width="1" stroke-linejoin="round" />
<polygon points="715.1,572.2 758.0,566.0 750.0,570.8 717.0,576.2" fill="#5f8ac8" stroke="none" stroke-width="1" stroke-linejoin="round" />
<polygon points="758.0,566.0 773.7,563.6 774.5,565.2 750.0,570.8" fill="#9fb6da" stroke="none" stroke-width="1" stroke-linejoin="round" />
<polygon points="718.5,588.8 783.0,580.2 787.6,589.5 722.1,598.5" fill="url(#gwb)" stroke="none" stroke-width="1" stroke-linejoin="round" />
<polygon points="728.8,603.2 736.8,601.9 736.8,613.2 728.8,614.6" fill="#3a9a4a" stroke="none" stroke-width="1" stroke-linejoin="round" />
<polygon points="738.2,601.2 787.0,593.2 787.0,603.8 738.2,612.8" fill="#3a9a4a" stroke="none" stroke-width="1" stroke-linejoin="round" />
<polygon points="738.2,601.2 787.0,593.2 787.0,596.2 738.2,604.2" fill="#5cb868" stroke="none" stroke-width="1" stroke-linejoin="round" />
<line x1="742.3" y1="603.6" x2="742.3" y2="612.0" stroke="#2a7a38" stroke-width="0.6" />
<line x1="746.3" y1="602.9" x2="746.3" y2="611.2" stroke="#2a7a38" stroke-width="0.6" />
<line x1="750.4" y1="602.2" x2="750.4" y2="610.5" stroke="#2a7a38" stroke-width="0.6" />
<line x1="754.5" y1="601.6" x2="754.5" y2="609.8" stroke="#2a7a38" stroke-width="0.6" />
<line x1="758.5" y1="600.9" x2="758.5" y2="609.0" stroke="#2a7a38" stroke-width="0.6" />
<line x1="762.6" y1="600.2" x2="762.6" y2="608.2" stroke="#2a7a38" stroke-width="0.6" />
<line x1="766.7" y1="599.6" x2="766.7" y2="607.5" stroke="#2a7a38" stroke-width="0.6" />
<line x1="770.7" y1="598.9" x2="770.7" y2="606.8" stroke="#2a7a38" stroke-width="0.6" />
<line x1="774.8" y1="598.2" x2="774.8" y2="606.0" stroke="#2a7a38" stroke-width="0.6" />
<line x1="778.9" y1="597.6" x2="778.9" y2="605.2" stroke="#2a7a38" stroke-width="0.6" />
<line x1="782.9" y1="596.9" x2="782.9" y2="604.5" stroke="#2a7a38" stroke-width="0.6" />
<path transform="translate(0,0)" d="M355,543.8 L355,535.5 Q355,533.2 358,533.2 Q361,533.2 361,535.5 L361,543.8 L360,544.8 L360,570.5 L355.6,570.5 L355.6,544.8 Z" fill="#1a2228"/>
<rect transform="translate(0,0)" x="355.8" y="567" width="4" height="3" fill="#6a4a30"/>
<path transform="translate(383,-3.7)" d="M355,543.8 L355,535.5 Q355,533.2 358,533.2 Q361,533.2 361,535.5 L361,543.8 L360,544.8 L360,570.5 L355.6,570.5 L355.6,544.8 Z" fill="#1a2228"/>
<rect transform="translate(383,-3.7)" x="355.8" y="567" width="4" height="3" fill="#6a4a30"/>
<defs><linearGradient id="blu" x1="0" y1="0" x2="0" y2="1"><stop offset="0" stop-color="#3558b8"/><stop offset="0.5" stop-color="#2c4cae"/><stop offset="1" stop-color="#20409a"/></linearGradient></defs>
<path d="M135.5,755 Q153,752 171.2,755 L171.2,776 Q153,779 135.5,776 Z" fill="url(#blu)"/>
<path d="M142.1,742.5 L170,742.5 L170,753 Q156,756 142.1,753 Z" fill="#3a62be"/>
<path d="M147.5,742.8 L149,735.5 Q150,732 153,732 L161,732 Q164,732 165,735.5 L166.5,742.8 Z" fill="#38382f"/>
<rect x="153.5" y="734.5" width="6.5" height="6" fill="#8e8466"/>
<ellipse cx="132.8" cy="764.2" rx="6.6" ry="18.6" fill="#2844a6"/>
<ellipse cx="174.2" cy="764.5" rx="4.6" ry="18.6" fill="#2844a6"/>
<path d="M138.5,747 Q137,754 150,754.5 L165,754.5 Q171,754 170,748" fill="none" stroke="#c0c0c0" stroke-width="0.9"/>
<rect x="135" y="764" width="12" height="2" fill="#9aaad8" opacity="0.8"/>
<path d="M222.9,759 L253.3,759 L253.3,768 Q253.3,777.7 238,777.7 Q222.9,777.7 222.9,768 Z" fill="#2b4aa8"/>
<path d="M216,766 L224,762.5 L226,772 L217,773 Z" fill="#2b4aa8"/>
<rect x="212.2" y="765.6" width="5.3" height="7.1" rx="1" fill="#c82828"/>
<defs><linearGradient id="brs" x1="0" y1="0" x2="0" y2="1"><stop offset="0" stop-color="#c9a35e"/><stop offset="1" stop-color="#9a7438"/></linearGradient></defs>
<path d="M222.9,746 L250.7,746 L250.7,759 Q236.8,763 222.9,759 Z" fill="url(#brs)"/>
<ellipse cx="236.8" cy="746" rx="13.9" ry="6" fill="#c8a460"/>
<ellipse cx="235.6" cy="746.8" rx="9.5" ry="4.2" fill="#e4e4ea"/>
<path d="M233,748 L238,745.5" stroke="#d03030" stroke-width="1"/>
<path d="M249.8,743 L258,739.5 L265.9,741 L265.9,765.1 L249.8,765.1 Z" fill="#2a48a8"/>
<ellipse cx="258.7" cy="731.8" rx="13" ry="9.6" transform="rotate(-32 258.7 731.8)" fill="#2a48a8"/>
<ellipse cx="259.5" cy="731.5" rx="8.5" ry="5.8" transform="rotate(-32 259.5 731.5)" fill="#223e98"/>
<path d="M244,740 L252,737 L254,744 L247,746 Z" fill="#2a48a8"/>
<path d="M255.1,767 L256.9,781.2" stroke="#a0a0a0" stroke-width="1"/>
<rect x="323.3" y="729.6" width="70" height="55.4" fill="#fbfbfb"/>
<rect x="331.4" y="734.9" width="60" height="14" fill="#dcdde0"/>
<rect x="381.5" y="736" width="10" height="43" fill="#c9cacd"/>
<rect x="327.5" y="749.2" width="54" height="22" fill="#e6e7ea" stroke="#c4c4c8" stroke-width="0.6"/>
<rect x="331.8" y="769.7" width="53" height="9.6" fill="#cdced2"/>
<rect x="334.2" y="754.5" width="26.3" height="10" fill="#2a6ee6"/>
<text x="345.5" y="762.8" font-size="8" textLength="14" lengthAdjust="spacingAndGlyphs" fill="#e8f0ff" font-family="Liberation Sans">65750</text>
<circle cx="361.9" cy="768.3" r="1.6" fill="#f05a28"/>
<circle cx="367.2" cy="768.3" r="1.6" fill="#f05a28"/>
<circle cx="371.9" cy="768.8" r="1.6" fill="#f05a28"/>
<circle cx="376.7" cy="769.3" r="1.6" fill="#f05a28"/>
<rect x="340" y="739" width="3" height="3" fill="#555"/>
<rect x="352" y="739" width="3" height="3" fill="#555"/>
<rect x="365" y="739" width="3" height="3" fill="#555"/>
<rect x="377" y="739" width="3" height="3" fill="#555"/>
<rect x="387" y="739" width="3" height="3" fill="#555"/>
<rect x="343" y="739" width="4" height="3" fill="#4a9a4a"/><rect x="369" y="741" width="4" height="3" fill="#4a9a4a"/>
<rect x="335" y="773" width="3" height="3" fill="#666"/>
<rect x="345" y="773" width="3" height="3" fill="#666"/>
<rect x="358" y="773" width="3" height="3" fill="#666"/>
<rect x="368" y="773" width="3" height="3" fill="#666"/>
<rect x="378" y="773" width="3" height="3" fill="#666"/>
<rect x="368" y="754.5" width="1" height="5" fill="#333"/><rect x="370.5" y="754.5" width="1" height="5" fill="#333"/><rect x="373" y="755" width="6" height="1.5" fill="#555"/><rect x="373" y="758" width="6" height="1.5" fill="#555"/>
<rect x="414.7" y="731.1" width="38" height="3" fill="#2a2a2a"/>
<rect x="404" y="733.1" width="50" height="49.7" fill="#6e6e6e"/>
<rect x="407.1" y="736.3" width="43.7" height="44.1" fill="#1e1e22"/>
<rect x="410.7" y="741.5" width="35.8" height="31.3" fill="#2c34f0"/>
<rect x="419.5" y="744.5" width="2.8" height="4.5" fill="none" stroke="#c8ccff" stroke-width="0.6"/>
<rect x="423.3" y="744.5" width="2.8" height="4.5" fill="none" stroke="#c8ccff" stroke-width="0.6"/>
<rect x="427.1" y="744.5" width="2.8" height="4.5" fill="none" stroke="#c8ccff" stroke-width="0.6"/>
<rect x="430.9" y="744.5" width="2.8" height="4.5" fill="none" stroke="#c8ccff" stroke-width="0.6"/>
<rect x="419.5" y="750.0" width="2.8" height="4.5" fill="none" stroke="#c8ccff" stroke-width="0.6"/>
<rect x="423.3" y="750.0" width="2.8" height="4.5" fill="none" stroke="#c8ccff" stroke-width="0.6"/>
<rect x="427.1" y="750.0" width="2.8" height="4.5" fill="none" stroke="#c8ccff" stroke-width="0.6"/>
<rect x="430.9" y="750.0" width="2.8" height="4.5" fill="none" stroke="#c8ccff" stroke-width="0.6"/>
<rect x="419.5" y="755.5" width="2.8" height="4.5" fill="none" stroke="#c8ccff" stroke-width="0.6"/>
<rect x="423.3" y="755.5" width="2.8" height="4.5" fill="none" stroke="#c8ccff" stroke-width="0.6"/>
<rect x="427.1" y="755.5" width="2.8" height="4.5" fill="none" stroke="#c8ccff" stroke-width="0.6"/>
<rect x="430.9" y="755.5" width="2.8" height="4.5" fill="none" stroke="#c8ccff" stroke-width="0.6"/>
<rect x="419.5" y="761.0" width="2.8" height="4.5" fill="none" stroke="#c8ccff" stroke-width="0.6"/>
<rect x="423.3" y="761.0" width="2.8" height="4.5" fill="none" stroke="#c8ccff" stroke-width="0.6"/>
<rect x="427.1" y="761.0" width="2.8" height="4.5" fill="none" stroke="#c8ccff" stroke-width="0.6"/>
<rect x="430.9" y="761.0" width="2.8" height="4.5" fill="none" stroke="#c8ccff" stroke-width="0.6"/>
<rect x="419" y="767" width="16" height="2" fill="#c8ccff" opacity="0.7"/>
<circle cx="419.8" cy="776.4" r="1.8" fill="#a02828"/>
<circle cx="425" cy="776.4" r="1.8" fill="#a02828"/>
<circle cx="430.6" cy="776.4" r="1.8" fill="#f06010"/>
<circle cx="436.9" cy="776.4" r="1.8" fill="#a02828"/>
<path d="M530,760 Q512,770 517,784 Q525,796 545,797.5 Q556,797.5 559,790" fill="none" stroke="#7a7a7a" stroke-width="1"/>
<rect x="538" y="728" width="9" height="7" rx="2" fill="#f0f0f0" stroke="#cfcfcf" stroke-width="0.5"/>
<rect x="569" y="724" width="9" height="8" rx="2" fill="#f0f0f0" stroke="#cfcfcf" stroke-width="0.5"/>
<circle cx="550" cy="733" r="1.2" fill="#3a8ad8"/>
<path d="M531,737 Q531,732 536,732 L582,731 Q586.4,731 586.4,736 L586.4,786 Q586.4,790 582,790 L536,791.4 Q531,791.4 531,787 Z" fill="#efefed"/>
<path d="M531,737 Q531,732 536,732 L552.4,731.8 L552.4,791 L536,791.4 Q531,791.4 531,787 Z" fill="#e3e3e1"/>
<path d="M529.5,759 L553,762.5" stroke="#4a4a4a" stroke-width="1.4"/>
<path d="M531,760.5 L553,764" stroke="#d8d8d6" stroke-width="1.5"/>
<path d="M586,758 L588,760" stroke="#4a4a4a" stroke-width="1.4"/>
<rect x="552.4" y="738" width="34" height="49.8" rx="3" fill="#f2f2f0" stroke="#d6d6d4" stroke-width="0.7"/>
<rect x="563" y="746.6" width="19.8" height="10.2" rx="1" fill="#b8c0cc"/>
<rect x="564" y="751.5" width="8" height="3" fill="#333"/><rect x="572" y="751.5" width="9" height="3" fill="#c83030"/>
<rect x="565" y="761" width="16" height="8" fill="#4e5e6c" stroke="#dcdcdc" stroke-width="0.8"/>
<path d="M676,748 Q700,744 724,750 L724,776 Q700,780 676,777 Z" fill="#24368f"/>
<path d="M708,770 L715,787 L724,784 L718,768 Z" fill="#2a3c9a"/>
<ellipse cx="675" cy="764" rx="6.3" ry="28.6" fill="#2b43b0"/>
<ellipse cx="673.5" cy="764" rx="3.2" ry="22" fill="#3c58c8" opacity="0.7"/>
<ellipse cx="730.8" cy="763.4" rx="8.9" ry="28" transform="rotate(-6 730.8 763.4)" fill="#2b43b0"/>
<rect x="689.6" y="734.7" width="29.8" height="21.5" rx="1.5" fill="#dcdce0" stroke="#9a9a9e" stroke-width="0.7"/>
<rect x="694.5" y="740.5" width="18" height="6" fill="#bcc4c4"/>
<rect x="692.5" y="736.5" width="4" height="2" fill="#d03030"/>
<circle cx="708.7" cy="749.6" r="2.6" fill="#e02020"/>
<path d="M712,756 Q728,772 735,790" fill="none" stroke="#b0b0b0" stroke-width="1"/>
<path d="M689,738 Q686,745 690,750" fill="none" stroke="#999" stroke-width="0.8"/></svg>
<!-- labels -->
<div class="a lbl" style="left:213px;top:250px;font-size:14px;line-height:20px">市级数据中心</div>
<div class="a lbl" style="left:420px;top:163px;font-size:14px;line-height:20px">国家级数据中心</div>
<div class="a lbl" style="left:611px;top:250px;font-size:14px;line-height:20px">省级数据中心</div>
<div class="a" style="left:427px;top:224px;font-size:18px;line-height:24px;letter-spacing:1px;font-weight:bold;color:#111">互联网</div>
<div class="a" style="left:458px;top:503px;font-size:18px;line-height:24px;letter-spacing:1px;font-weight:bold;color:#111">互联网</div>
<div class="a srv" style="left:174px;top:404px;line-height:18px">采集服务器</div>
<div class="a srv" style="left:287px;top:400.5px;line-height:18px;letter-spacing:0.75px">WEB运用服务器</div>
<div class="a srv" style="left:426px;top:401px;line-height:18px">数据库服务器</div>
<div class="a" style="left:575px;top:402px;font-size:12px;line-height:18px;letter-spacing:-0.8px;color:#222">用户WEB查询</div>
<div class="a" style="left:699px;top:402px;font-size:12px;line-height:18px;letter-spacing:-0.85px;color:#222">手机端 WEB查询</div>
<div class="a" style="left:369px;top:540px;font-size:12px;line-height:16px;font-weight:bold;letter-spacing:-1.1px;color:#c05f00">GPRS</div>
<div class="a" style="left:747px;top:540px;font-size:12px;line-height:16px;font-weight:bold;letter-spacing:-1.1px;color:#c05f00">GPRS</div>
<!-- buttons -->
<div class="btn" style="left:118px;width:158px;background:#c05f00">水</div>
<div class="btn" style="left:315px;width:157px;background:#a0a0ff">电</div>
<div class="btn" style="left:511px;width:127px;background:#bfbfbf">气</div>
<div class="btn" style="left:658px;width:130px;background:#ff6600">热</div>

</body></html>
